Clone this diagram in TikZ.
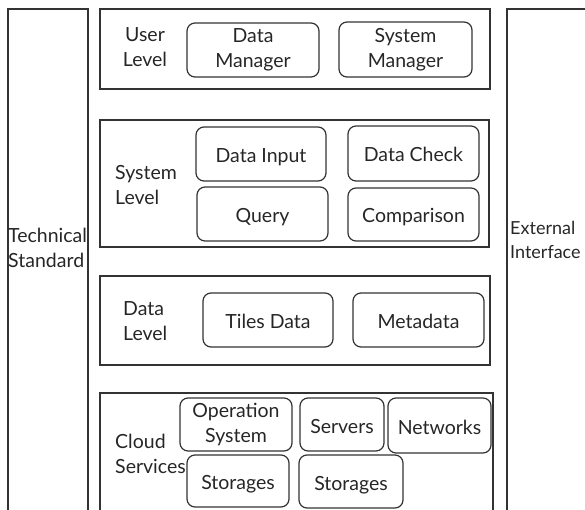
\documentclass[tikz,border=0pt]{standalone}
\usepackage{fontspec}
\setmainfont{Lato}
\begin{document}
\begin{tikzpicture}[x=1pt,y=-1pt,
  layer/.style={draw=black!80, line width=1.2pt, inner sep=0pt},
  item/.style={draw=black!80, line width=1.2pt, rounded corners=8pt, inner sep=0pt, align=center, font=\fontsize{19.5}{25}\selectfont, text=black!85},
  one/.style={item, text height=17pt, text depth=0pt},
  lbl/.style={inner sep=0pt, align=left, font=\fontsize{19.5}{25}\selectfont, text=black!85}]
\useasboundingbox (0,0) rectangle (585,510);
\clip (0,0) rectangle (585,510);
% side columns
\node[layer, minimum width=80pt, minimum height=511pt] (tech) at (48,264.5) {};
\node[layer, minimum width=93pt, minimum height=511pt] (ext) at (553.5,264.5) {};
% layers
\node[layer, minimum width=390pt, minimum height=80pt] (user) at (295,49) {};
\node[layer, minimum width=389pt, minimum height=127pt] (sys) at (294.5,183.5) {};
\node[layer, minimum width=390pt, minimum height=89pt] (data) at (295,320.5) {};
\node[layer, minimum width=393pt, minimum height=127pt] (cloud) at (296.5,456.5) {};
% labels
\node[lbl, align=center] (userL) at (145,47) {User\\Level};
\node[lbl, anchor=west] (sysL) at (115,185) {System\\Level};
\node[lbl, anchor=west] (dataL) at (123,321) {Data\\Level};
\node[lbl, anchor=west] (cloudL) at (115,454) {Cloud\\Services};
\node[lbl, anchor=west] (techL) at (8,248) {Technical\\Standard};
\node[lbl, anchor=west, font=\fontsize{18}{24}\selectfont] (extL) at (510,240) {External\\Interface};
% items
\node[item, minimum width=132pt, minimum height=54pt] (dm) at (253,50) {Data\\Manager};
\node[item, minimum width=133pt, minimum height=55pt] (sm) at (405.5,49.5) {System\\Manager};
\node[one, minimum width=130pt, minimum height=54pt] (di) at (261,154) {Data Input};
\node[one, minimum width=131pt, minimum height=55pt] (dc) at (413.5,153.5) {Data Check};
\node[one, minimum width=131pt, minimum height=54pt] (q) at (262.5,214) {Query};
\node[one, minimum width=131pt, minimum height=53pt] (cmp) at (413.5,214.5) {Comparison};
\node[one, minimum width=130pt, minimum height=54pt] (td) at (268,320) {Tiles Data};
\node[one, minimum width=131pt, minimum height=54pt] (md) at (418.5,320) {Metadata};
\node[item, minimum width=112pt, minimum height=53pt] (os) at (236,424.5) {Operation\\System};
\node[one, minimum width=84pt, minimum height=53pt] (sv) at (342,424.5) {Servers};
\node[one, minimum width=103pt, minimum height=55pt] (nw) at (439.5,425.5) {Networks};
\node[one, minimum width=102pt, minimum height=52pt] (st1) at (238,481) {Storages};
\node[one, minimum width=104pt, minimum height=53pt] (st2) at (351,481.5) {Storages};
\end{tikzpicture}
\end{document}
